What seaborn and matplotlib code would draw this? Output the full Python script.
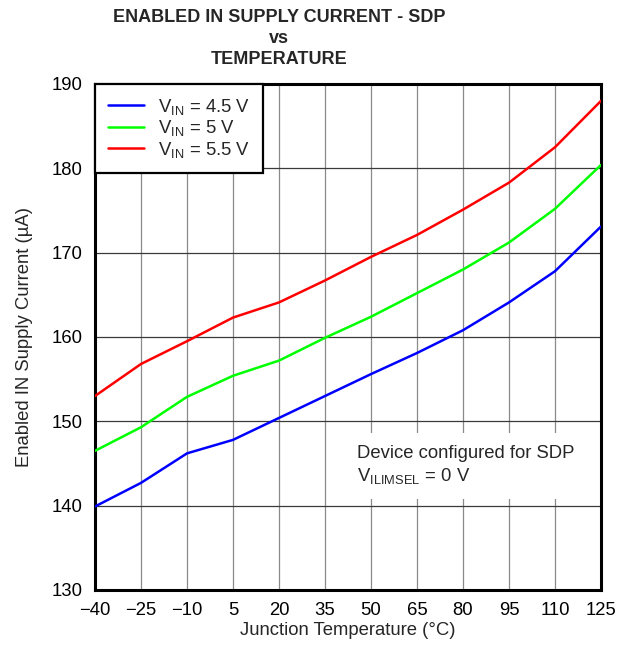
import matplotlib
matplotlib.use("Agg")
import matplotlib.pyplot as plt
import numpy as np
import pandas as pd
import seaborn as sns

# Data
temperature = [-40, -25, -10, 5, 20, 35, 50, 65, 80, 95, 110, 125]
vin_4p5 = [139.9, 142.7, 146.2, 147.8, 150.4, 153.0, 155.6, 158.1, 160.8, 164.1, 167.8, 173.1]
vin_5 = [146.5, 149.3, 152.9, 155.4, 157.2, 159.9, 162.4, 165.2, 168.0, 171.2, 175.2, 180.4]
vin_5p5 = [153.0, 156.8, 159.5, 162.3, 164.1, 166.7, 169.5, 172.1, 175.1, 178.3, 182.5, 188.0]
series_labels = [r"V$_\mathregular{IN}$ = 4.5 V", r"V$_\mathregular{IN}$ = 5 V", r"V$_\mathregular{IN}$ = 5.5 V"]
y_ticks = [130, 140, 150, 160, 170, 180, 190]

frames = []
for label, vals in zip(series_labels, [vin_4p5, vin_5, vin_5p5]):
    frames.append(pd.DataFrame({"temp": temperature, "current": vals, "series": label}))
df = pd.concat(frames, ignore_index=True)

sns.set_style("white")
plt.rcParams["font.family"] = ["Liberation Sans", "DejaVu Sans"]
plt.rcParams["axes.unicode_minus"] = True

fig = plt.figure(figsize=(6.3, 6.45), dpi=100)
ax = fig.add_axes([0.1508, 0.0853, 0.8032, 0.7845])

sns.lineplot(
    data=df, x="temp", y="current", hue="series",
    palette=["#0000ff", "#00ff00", "#ff0000"],
    linewidth=1.8, ax=ax, zorder=3,
)

ax.set_xlim(-40, 125)
ax.set_ylim(130, 190)
ax.set_xticks(temperature)
ax.set_xticklabels([str(t).replace("-", "\u2212") for t in temperature])
ax.set_yticks(y_ticks)
ax.xaxis.grid(True, color="#8a8a8a", linewidth=0.9)
ax.yaxis.grid(True, color="#3a3a3a", linewidth=0.9)
ax.tick_params(axis="both", length=0, labelsize=13.3, colors="black")
ax.tick_params(axis="y", pad=9)
ax.tick_params(axis="x", pad=9)
for s in ax.spines.values():
    s.set_linewidth(2.2)
    s.set_color("black")

ax.set_xlabel("Junction Temperature (\u00b0C)", fontsize=13.3, labelpad=2)
ax.set_ylabel("Enabled IN Supply Current (\u00b5A)", fontsize=13.3, labelpad=13)

leg = ax.legend(loc="upper left", fontsize=13.3, frameon=True, fancybox=False,
                borderaxespad=0, handlelength=1.95, labelspacing=0.08,
                borderpad=0.7, handletextpad=0.75)
leg.get_frame().set_edgecolor("black")
leg.get_frame().set_linewidth(1.6)
leg.get_frame().set_alpha(1)

ax.text(45.5, 147.25, "Device configured for SDP\nV$_\\mathregular{ILIMSEL}$ = 0 V",
        fontsize=13.3, va="top", ha="left", linespacing=1.3, zorder=4,
        bbox=dict(facecolor="white", edgecolor="none", pad=9))

fig.text(0.443, 1 - 9 / 645, "ENABLED IN SUPPLY CURRENT - SDP\nvs\nTEMPERATURE",
         ha="center", va="top", fontsize=13, fontweight="bold", linespacing=1.3)

fig.savefig("out.png", dpi=100)
